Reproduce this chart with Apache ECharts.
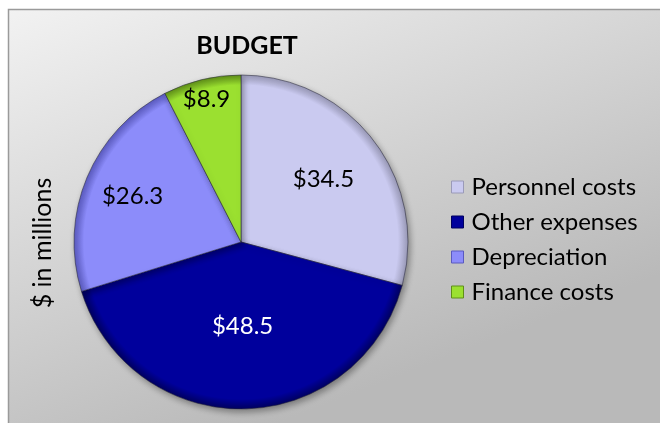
<!DOCTYPE html>
<html>
<head>
<meta charset="utf-8">
<script src="https://cdn.jsdelivr.net/npm/echarts@6/dist/echarts.min.js"></script>
<style>
    html, body { margin: 0; padding: 0; background: #fff; }
    #chart { width: 660px; height: 423px; }
</style>
</head>
<body>
<div id="chart"></div>
<script>
// budget data, $ in millions
const categories = ['Personnel costs', 'Other expenses', 'Depreciation', 'Finance costs']
const values = [34.5, 48.5, 26.3, 8.9]
const colors = ['#cacaf0', '#00009c', '#8c8cfa', '#9be030']
const rimColors = ['#9a9ab8', '#000060', '#5a5ac0', '#5f8f18']

// how far out each label sits, as a share of the radius (Excel puts them unevenly)
const labelRadius = [0.6, 0.49, 0.68, 0.85]

const cx = 241, cy = 242, R = 167
const font = 'Lato, "Noto Sans", sans-serif'

let chart = echarts.init(document.getElementById('chart'))

let pieData = categories.map((name, i) => ({
    name: name,
    value: values[i],
    itemStyle: {
        color: {
            type: 'radial', x: cx, y: cy, r: R, global: true,
            colorStops: [
                { offset: 0, color: colors[i] },
                { offset: 0.94, color: colors[i] },
                { offset: 1, color: rimColors[i] }
            ]
        }
    },
    label: { color: i === 1 ? '#fff' : '#000' }
}))

let option = {
    animation: false,
    graphic: [
        {
            type: 'rect',
            z: -10,
            shape: { x: 8.5, y: 9.5, width: 700, height: 450 },
            style: {
                fill: {
                    type: 'linear', x: 0, y: 0, x2: 0.25, y2: 1,
                    colorStops: [
                        { offset: 0, color: '#f2f2f2' },
                        { offset: 1, color: '#b9b9b9' }
                    ]
                },
                stroke: '#9a9a9a',
                lineWidth: 1.5
            }
        },
        {
            type: 'text',
            x: 43, y: 243,
            rotation: Math.PI / 2,
            style: {
                text: '$ in millions',
                font: '25px ' + font,
                fill: '#000',
                textAlign: 'center',
                textVerticalAlign: 'middle'
            }
        }
    ],
    title: {
        text: 'BUDGET',
        left: 242,
        top: 28,
        textAlign: 'center',
        textStyle: { fontFamily: font, fontWeight: 'bold', fontSize: 25, color: '#000' }
    },
    legend: {
        orient: 'vertical',
        left: 446,
        top: 170,
        icon: 'rect',
        itemWidth: 12,
        itemHeight: 12,
        itemGap: 11,
        data: categories.map((c, i) => ({ name: c, itemStyle: { color: colors[i], borderColor: rimColors[i], borderWidth: 1 } })),
        textStyle: { fontFamily: font, fontSize: 24, color: '#000', lineHeight: 24, padding: [0, 0, 0, 3] }
    },
    series: [
        {
            type: 'pie',
            center: [cx, cy],
            radius: [0, R],
            startAngle: 90,
            clockwise: true,
            data: pieData,
            itemStyle: {
                borderColor: 'rgba(40,40,60,0.55)',
                borderWidth: 1,
                shadowBlur: 6,
                shadowOffsetX: 2,
                shadowOffsetY: 3,
                shadowColor: 'rgba(0,0,0,0.35)'
            },
            label: {
                show: true,
                position: 'inside',
                fontFamily: font,
                fontSize: 24,
                formatter: p => '$' + p.value.toFixed(1)
            },
            labelLine: { show: false },
            labelLayout: function (p) {
                let r = p.labelRect
                let lx = r.x + r.width / 2, ly = r.y + r.height / 2
                let k = labelRadius[p.dataIndex] / 0.5
                return { dx: (lx - cx) * (k - 1), dy: (ly - cy) * (k - 1) }
            }
        }
    ]
}

chart.setOption(option)
window.addEventListener('resize', () => {
    chart.resize()
})
</script>
</body>
</html>
